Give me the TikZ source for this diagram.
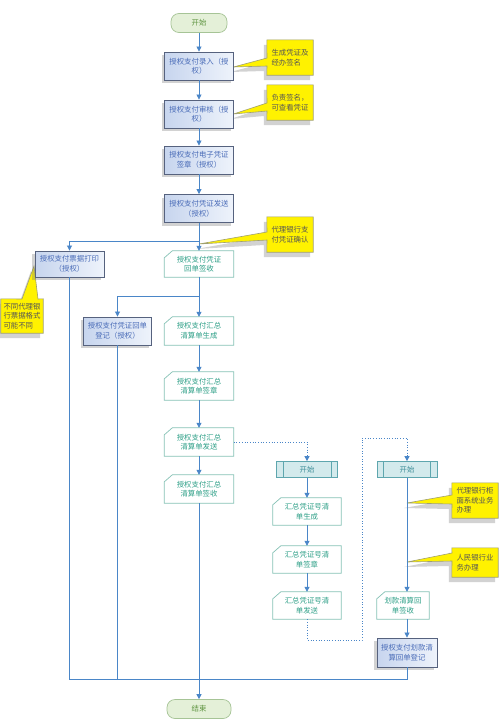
\documentclass[tikz,border=0pt]{standalone}
\usepackage{fontspec}
\newfontfamily\cjk{Noto Sans CJK SC}
\usetikzlibrary{arrows.meta,backgrounds,shadows}
\pgfdeclarelayer{paper}
\pgfsetlayers{paper,background,main}
\definecolor{bborder}{HTML}{56627E}
\definecolor{bfillA}{HTML}{C7D5EE}
\definecolor{bfillB}{HTML}{EEF3FB}
\definecolor{btext}{HTML}{4A6CB8}
\definecolor{mborder}{HTML}{86C2B6}
\definecolor{mtext}{HTML}{2FA088}
\definecolor{tborder}{HTML}{A6C496}
\definecolor{tfill}{HTML}{E4F0D8}
\definecolor{ttext}{HTML}{5E9440}
\definecolor{sborder}{HTML}{5EA6AE}
\definecolor{sfill}{HTML}{D3EAEC}
\definecolor{stext}{HTML}{3E8E98}
\definecolor{cyellow}{HTML}{FFF200}
\definecolor{cborder}{HTML}{A0A070}
\definecolor{ctext}{HTML}{555555}
\definecolor{lblue}{HTML}{4A86C8}
\begin{document}
\begin{tikzpicture}[x=1pt,y=-1pt,
  base/.style={font=\cjk\fontsize{7.4}{9.6}\selectfont, align=center, inner sep=1pt},
  bluebox/.style={base, draw=bborder, line width=0.9pt, left color=bfillA, right color=bfillB,
    text=btext, minimum width=69pt, minimum height=28pt,
    drop shadow={shadow xshift=-3pt, shadow yshift=-3pt, fill=gray, opacity=0.35}},
  manual/.style={base, text=mtext, minimum width=69pt, minimum height=28pt},
  term/.style={base, rounded corners=8pt, draw=tborder, fill=tfill, text=ttext, line width=0.7pt,
    minimum width=56pt, minimum height=19pt},
  subp/.style={base, draw=sborder, fill=sfill, text=stext, line width=0.7pt,
    minimum width=61pt, minimum height=16pt},
  callout/.style={base, text=ctext, align=left, minimum width=46pt, minimum height=35pt},
  cshape/.style={fill=cyellow, draw=cborder, line width=0.6pt,
    drop shadow={shadow xshift=-3pt, shadow yshift=-5pt, fill=gray, opacity=0.35}},
  conn/.style={draw=lblue, line width=0.8pt},
  arr/.style={conn, -{Triangle[length=5pt,width=5pt]}},
  dotline/.style={draw=lblue, line width=0.7pt, dotted, -{Triangle[length=5pt,width=5pt]}},
  mshape/.style={draw=mborder, fill=white, line width=0.7pt}
]
\useasboundingbox (0,0) rectangle (500,720);
\begin{pgfonlayer}{paper}
\fill[white] (0,0) rectangle (500,720);
\end{pgfonlayer}

% main column
\node[term] (t1) at (199,23) {开始};
\node[bluebox] (a1) at (199,66) {授权支付录入（授\\权）};
\node[bluebox] (a2) at (199,114) {授权支付审核（授\\权）};
\node[bluebox] (a3) at (199,160) {授权支付电子凭证\\签章（授权）};
\node[bluebox] (a4) at (199,208.5) {授权支付凭证发送\\（授权）};
\node[manual, minimum height=26pt] (r1) at (199,264) {授权支付凭证\\回单签收};
\node[manual] (r2) at (199,331) {授权支付汇总\\清算单生成};
\node[manual] (r3) at (199,386) {授权支付汇总\\清算单签章};
\node[manual] (r4) at (199,442) {授权支付汇总\\清算单发送};
\node[manual] (r5) at (199,489) {授权支付汇总\\清算单签收};
\node[term, minimum width=64pt] (t2) at (199,709) {结束};

% left branches
\node[bluebox, minimum height=26pt] (p1) at (69.5,264) {授权支付票据打印\\（授权）};
\node[bluebox, minimum width=68pt] (p2) at (117.5,331) {授权支付凭证回单\\登记（授权）};

% sub process 1
\node[subp] (s1) at (307,469.5) {开始};
\node[manual, minimum width=68pt, minimum height=27pt] (q1) at (307,511.5) {汇总凭证号清\\单生成};
\node[manual, minimum width=68pt, minimum height=27pt] (q2) at (307,559.5) {汇总凭证号清\\单签章};
\node[manual, minimum width=68pt, minimum height=27pt] (q3) at (307,605.5) {汇总凭证号清\\单发送};

% sub process 2
\node[subp, minimum width=60pt] (s2) at (407,469.5) {开始};
\node[manual, minimum width=52pt, minimum height=27pt] (u1) at (403,605.5) {划款清算回\\单签收};
\node[bluebox, minimum width=60pt, minimum height=29pt] (u2) at (407,652.5) {授权支付划款清\\算回单登记};

% callouts
\node[callout] (c1) at (290,57.5) {生成凭证及\\经办签名};
\node[callout] (c2) at (290,102.5) {负责签名，\\可查看凭证};
\node[callout] (c3) at (290,234.5) {代理银行支\\付凭证确认};
\node[callout, minimum width=42pt, minimum height=34pt] (c4) at (22,316) {不同代理银\\行票据格式\\可能不同};
\node[callout] (c5) at (475,500.5) {代理银行柜\\面系统业务\\办理};
\node[callout, minimum height=29pt] (c6) at (475,562.5) {人民银行业\\务办理};

\begin{scope}[on background layer]
  % manual input shapes
  \foreach \n in {r1,r2,r3,r4,r5,q1,q2,q3,u1}
    \draw[mshape] ([yshift=-7pt]\n.north west) -- ([xshift=8pt]\n.north west)
      -- (\n.north east) -- (\n.south east) -- (\n.south west) -- cycle;
  % callout shapes
  \path[cshape] (c1.north west) -- (c1.north east) -- (c1.south east) -- (c1.south west)
    -- (267,66) -- (233.5,67) -- (267,58) -- cycle;
  \path[cshape] (c2.north west) -- (c2.north east) -- (c2.south east) -- (c2.south west)
    -- (267,111) -- (233.5,114) -- (267,103) -- cycle;
  \path[cshape] (c3.north west) -- (c3.north east) -- (c3.south east) -- (c3.south west)
    -- (267,240) -- (199,244) -- (267,232) -- cycle;
  \path[cshape] (c4.north west) -- (22,299) -- (34,266) -- (38,299) -- (c4.north east)
    -- (c4.south east) -- (c4.south west) -- cycle;
  \path[cshape] (c5.north west) -- (c5.north east) -- (c5.south east) -- (c5.south west)
    -- (452,504) -- (407,503) -- (452,495) -- cycle;
  \path[cshape] (c6.north west) -- (c6.north east) -- (c6.south east) -- (c6.south west)
    -- (452,561) -- (407,562) -- (452,553) -- cycle;
\end{scope}

% sub process inner lines
\foreach \n in {s1,s2} {
  \draw[sborder, line width=0.7pt] ([xshift=7pt]\n.north west) -- ([xshift=7pt]\n.south west);
  \draw[sborder, line width=0.7pt] ([xshift=-7pt]\n.north east) -- ([xshift=-7pt]\n.south east);
}

% connectors main column
\draw[arr] (t1) -- (a1);
\draw[arr] (a1) -- (a2);
\draw[arr] (a2) -- (a3);
\draw[arr] (a3) -- (a4);
\draw[arr] (a4) -- (r1);
\coordinate (b1) at (199,241);
\draw[arr] (b1) -| (p1.north);
\draw[arr] (r1) -- (r2);
\coordinate (b2) at (199,296);
\draw[arr] (b2) -| (p2.north);
\draw[arr] (r2) -- (r3);
\draw[arr] (r3) -- (r4);
\draw[arr] (r4) -- (r5);
\draw[arr] (r5) -- (t2);

% bottom collector
\coordinate (bL) at (69.5,679);
\coordinate (bR) at (407,679);
\draw[conn] (p1.south) -- (bL) -- (bR) -- (u2.south);
\draw[conn] (p2.south) -- (p2.south |- bL);

% dotted links
\draw[dotline] (r4.east) -| (s1.north);
\coordinate (d1) at (307,640);
\coordinate (d2) at (362,640);
\coordinate (d3) at (362,438);
\draw[dotline] (q3.south) -- (d1) -- (d2) -- (d3) -| (s2.north);

% sub process connectors
\draw[arr] (s1) -- (q1);
\draw[arr] (q1) -- (q2);
\draw[arr] (q2) -- (q3);
\draw[arr] (s2.south) -- (s2.south |- u1.north);
\draw[arr] (u1.south -| u2.north) -- (u2.north);
\end{tikzpicture}
\end{document}
